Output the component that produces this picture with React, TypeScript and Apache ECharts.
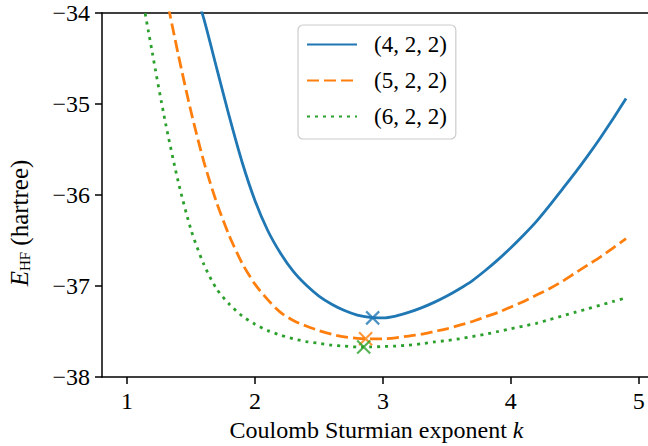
import React, { useEffect, useRef } from "react";
import * as echarts from "echarts";

const kValues = [
  1.0, 1.1, 1.2, 1.3, 1.4, 1.5, 1.6, 1.7, 1.8, 1.9,
  2.0, 2.1, 2.2, 2.3, 2.4, 2.5, 2.6, 2.7, 2.8, 2.9,
  3.0, 3.1, 3.2, 3.3, 3.4, 3.5, 3.6, 3.7, 3.8, 3.9,
  4.0, 4.1, 4.2, 4.3, 4.4, 4.5, 4.6, 4.7, 4.8, 4.9,
];

const e422 = [
  -28.6, -29.9, -31.1, -32.2, -33.1, -33.6, -34.06, -34.6, -35.14, -35.64,
  -36.06, -36.39, -36.64, -36.84, -36.99, -37.11, -37.2, -37.27, -37.32, -37.345,
  -37.35, -37.33, -37.29, -37.24, -37.18, -37.11, -37.03, -36.94, -36.83, -36.71,
  -36.58, -36.44, -36.29, -36.12, -35.94, -35.76, -35.57, -35.37, -35.16, -34.94,
];

const e522 = [
  -30.6, -31.7, -32.8, -33.75, -34.45, -35.08, -35.63, -36.08, -36.45, -36.75,
  -36.98, -37.15, -37.29, -37.38, -37.44, -37.49, -37.53, -37.56, -37.575, -37.58,
  -37.58, -37.57, -37.55, -37.53, -37.5, -37.47, -37.43, -37.39, -37.34, -37.29,
  -37.23, -37.17, -37.1, -37.03, -36.95, -36.86, -36.77, -36.68, -36.58, -36.48,
];

const e622 = [
  -31.2, -33.6, -34.45, -35.2, -35.85, -36.38, -36.76, -37.03, -37.2, -37.33,
  -37.42, -37.49, -37.54, -37.58, -37.61, -37.63, -37.65, -37.66, -37.67, -37.67,
  -37.665, -37.66, -37.65, -37.635, -37.615, -37.6, -37.58, -37.555, -37.53, -37.5,
  -37.47, -37.44, -37.41, -37.37, -37.33, -37.29, -37.25, -37.21, -37.17, -37.13,
];

const seriesNames = ["(4, 2, 2)", "(5, 2, 2)", "(6, 2, 2)"];
const minK = [2.92, 2.865, 2.85];
const minE = [-37.35, -37.58, -37.67];
const xTicks = [1, 2, 3, 4, 5];
const yTicks = [-38, -37, -36, -35, -34];

const colors = ["#1f77b4", "#ff7f0e", "#2ca02c"];
const FONT = "'Liberation Serif', 'Times New Roman', serif";

export default function App() {
  const ref = useRef<HTMLDivElement>(null);

  useEffect(() => {
    if (!ref.current) return;
    const chart = echarts.init(ref.current, undefined, { renderer: "svg" });
    const curves = [e422, e522, e622];
    const lineTypes: any[] = ["solid", [12, 5], [3, 5]];

    const lineSeries = curves.map((vals, i) => ({
      name: seriesNames[i],
      type: "line",
      data: kValues.map((k, j) => [k, vals[j]]),
      symbol: "none",
      showSymbol: false,
      smooth: 0.25,
      clip: true,
      lineStyle: {
        color: colors[i],
        width: 2.8,
        type: lineTypes[i],
        cap: "butt",
      },
      itemStyle: { color: colors[i] },
      z: 3,
    }));

    const markerSeries = minK.map((k, i) => ({
      name: "min" + i,
      type: "scatter",
      data: [[k, minE[i]]],
      symbol: "path://M0,0L10,10M10,0L0,10",
      symbolSize: 13,
      itemStyle: {
        color: "none",
        borderColor: colors[i],
        borderWidth: 2.2,
      },
      z: 4,
    }));

    const labelStyle = {
      color: "#000",
      fontFamily: FONT,
      fontSize: 24,
    };

    chart.setOption({
      animation: false,
      grid: {
        left: 102,
        right: 1,
        top: 13,
        bottom: 69,
        containLabel: false,
        outerBoundsMode: "none",
      },
      legend: {
        data: seriesNames,
        orient: "vertical",
        left: 298,
        top: 25,
        itemWidth: 50,
        itemHeight: 14,
        itemGap: 13,
        padding: [8, 9, 11, 8],
        borderColor: "#cccccc",
        borderWidth: 1.2,
        borderRadius: 5,
        backgroundColor: "rgba(255,255,255,0.8)",
        itemStyle: { opacity: 0 },
        textStyle: {
          color: "#000",
          fontFamily: FONT,
          fontSize: 23,
          lineHeight: 22,
          padding: [0, 0, 0, 12],
        },
      },
      xAxis: [
        {
          type: "value",
          min: 0.805,
          max: 5.095,
          position: "bottom",
          name: "{n|Coulomb Sturmian exponent }{k|k}",
          nameLocation: "middle",
          nameGap: 41,
          nameTextStyle: {
            rich: {
              n: { fontFamily: FONT, fontSize: 24, color: "#000" },
              k: { fontFamily: FONT, fontSize: 24, fontStyle: "italic", color: "#000" },
            },
          },
          axisLine: { show: true, onZero: false, lineStyle: { color: "#000", width: 1.5 } },
          axisTick: {
            show: true,
            inside: false,
            length: 7,
            customValues: xTicks,
            lineStyle: { color: "#000", width: 1.5 },
          },
          axisLabel: { ...labelStyle, margin: 12, customValues: xTicks },
          splitLine: { show: false },
        },
        {
          type: "value",
          min: 0.805,
          max: 5.095,
          position: "top",
          axisLine: { show: true, onZero: false, lineStyle: { color: "#000", width: 1.5 } },
          axisTick: { show: false },
          axisLabel: { show: false },
          splitLine: { show: false },
        },
      ],
      yAxis: {
        type: "value",
        min: -38,
        max: -34,
        interval: 1,
        name: "{e|E}{s|HF}{n| (hartree)}",
        nameLocation: "middle",
        nameGap: 70,
        nameRotate: 90,
        nameTextStyle: {
          padding: [0, 56, 0, 0],
          rich: {
            e: { fontFamily: FONT, fontSize: 25, fontStyle: "italic", color: "#000" },
            s: { fontFamily: FONT, fontSize: 15, color: "#000", verticalAlign: "bottom", padding: [9, 0, 0, 0] },
            n: { fontFamily: FONT, fontSize: 25, color: "#000" },
          },
        },
        axisLine: { show: true, onZero: false, lineStyle: { color: "#000", width: 1.5 } },
        axisTick: { show: true, inside: false, length: 7, lineStyle: { color: "#000", width: 1.5 } },
        axisLabel: {
          ...labelStyle,
          margin: 12,
          customValues: yTicks,
          formatter: (v: number) => String(v).replace("-", "\u2212"),
        },
        splitLine: { show: false },
      },
      series: [...lineSeries, ...markerSeries],
    });

    return () => chart.dispose();
  }, []);

  return (
    <div
      style={{
        position: "fixed",
        left: 0,
        top: 0,
        width: 648,
        height: 446,
        overflow: "hidden",
        background: "#fff",
      }}
    >
      <div ref={ref} style={{ width: 652, height: 446 }} />
    </div>
  );
}
